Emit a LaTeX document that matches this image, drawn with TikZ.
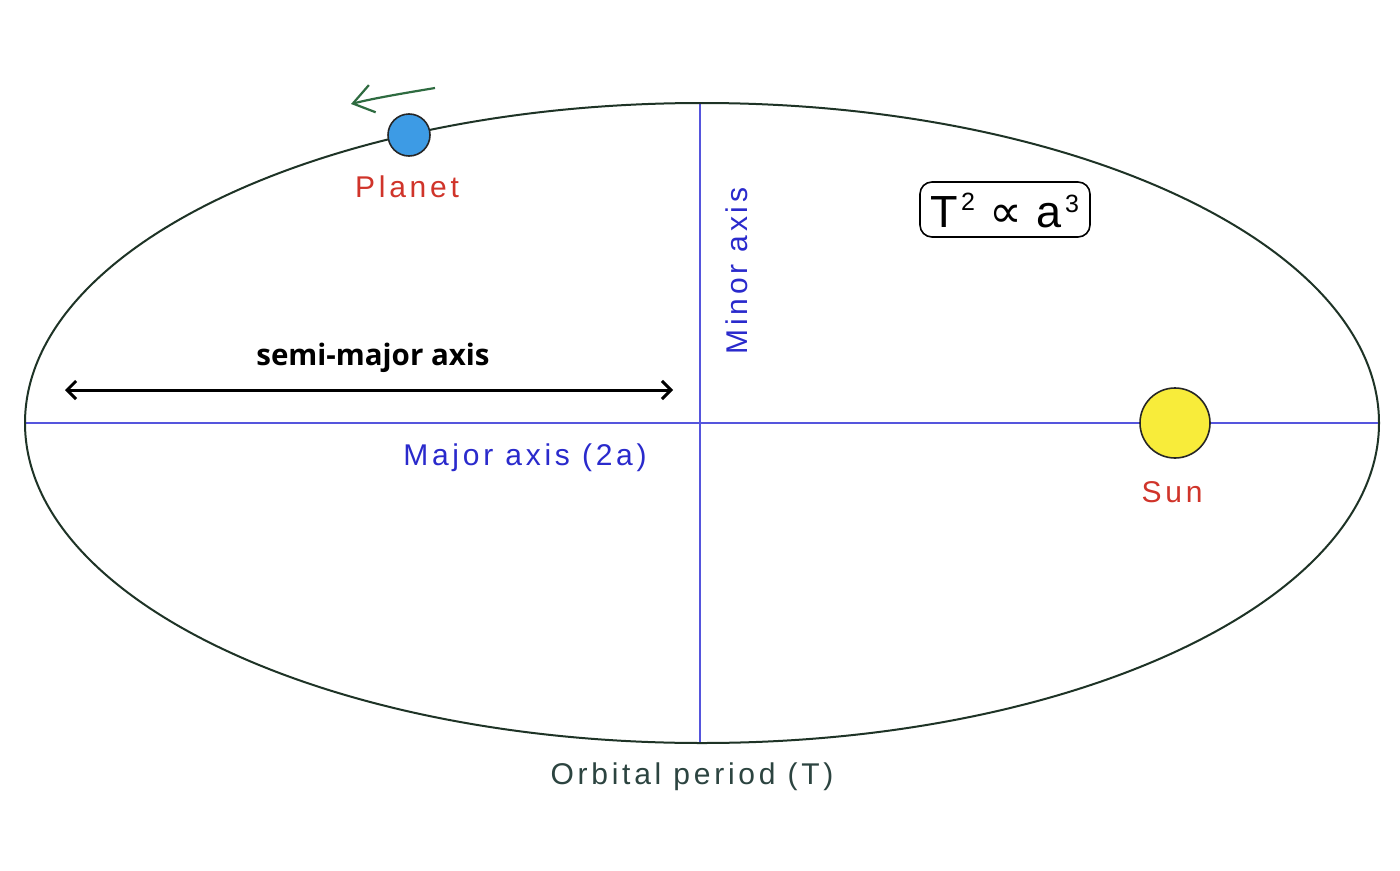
\documentclass[tikz,border=0pt]{standalone}
\usepackage{fontspec}
\setmainfont{Liberation Sans}
\newfontfamily\boldsans{Open Sans}
\newfontfamily\spaced[LetterSpace=12.5]{Liberation Sans}
\newfontfamily\dejavu{DejaVu Sans}
\usetikzlibrary{arrows.meta}
\definecolor{orbit}{HTML}{1E3326}
\definecolor{axisblue}{HTML}{5555DD}
\definecolor{txtblue}{HTML}{2A2ACC}
\definecolor{txtred}{HTML}{D0342A}
\definecolor{planetblue}{HTML}{3D9BE5}
\definecolor{sunyellow}{HTML}{F8EC3A}
\definecolor{arrowgreen}{HTML}{2E6B40}
\definecolor{periodcol}{HTML}{2C4440}
\tikzset{
  lbl/.style={font=\spaced\fontsize{30}{36}\selectfont, inner sep=0pt},
  axisline/.style={draw=axisblue, line width=1.8pt},
  body/.style={circle, draw=black!85, line width=1.6pt, inner sep=0pt},
  lawbig/.style={inner sep=0pt, anchor=base west, font=\fontsize{45}{50}\selectfont},
  lawsup/.style={inner sep=0pt, anchor=base west, font=\fontsize{25}{28}\selectfont},
}
\begin{document}
\begin{tikzpicture}[x=1pt,y=-1pt]
\useasboundingbox[fill=white] (0,0) rectangle (1400,870);
% axes
\coordinate (L) at (25,423);
\coordinate (R) at (1379,423);
\coordinate (Tp) at (700,103);
\coordinate (Bt) at (700,743);
\draw[axisline] (L) -- (R);
\draw[axisline] (Tp) -- (Bt);
% orbit
\draw[orbit, line width=2pt] (702,423) ellipse [x radius=677, y radius=320];
% planet
\node[body, fill=planetblue, minimum size=42pt] (planet) at (409,135) {};
\node[lbl, text=txtred] (planetlbl) at (407,187) {Planet};
% sun
\node[body, fill=sunyellow, minimum size=70pt] (sun) at (1175,423) {};
\node[lbl, text=txtred] (sunlbl) at (1172,492) {Sun};
% direction arrow
\coordinate (ga) at (435,88);
\coordinate (gb) at (351,104);
\draw[arrowgreen, line width=2.2pt, -{Straight Barb[length=20pt,width=28pt,line width=2.2pt]}]
  (ga) .. controls (405,93) and (375,98) .. (gb);
% semi-major axis
\node[inner sep=0pt, font=\boldsans\bfseries\fontsize{29.5}{34}\selectfont] (semilbl) at (373,358) {semi-major axis};
\coordinate (sa) at (65,390);
\coordinate (sb) at (673,390);
\draw[line width=3pt, {Straight Barb[length=9pt,width=18pt,line width=3pt]}-{Straight Barb[length=9pt,width=18pt,line width=3pt]}] (sa) -- (sb);
% labels
\node[lbl, text=txtblue] (majlbl) at (525,458) {Major axis (2a)};
\node[lbl, text=txtblue, rotate=90] (minlbl) at (737,271) {Minor axis};
\node[lbl, text=periodcol] (perlbl) at (692,777) {Orbital period (T)};
% Kepler law box
\node[draw=black, line width=1.6pt, rounded corners=12pt, minimum width=170pt, minimum height=55pt, inner sep=0pt] (law) at (1005,209.5) {};
\node[lawbig] (lawT) at (930,227) {T};
\node[lawsup] (law2) at (961,210) {2};
\node[lawbig, font=\dejavu\fontsize{46}{50}\selectfont] (lawprop) at (989,227) {∝};
\node[lawbig] (lawa) at (1036,227) {a};
\node[lawsup] (law3) at (1065,212) {3};
\end{tikzpicture}
\end{document}
